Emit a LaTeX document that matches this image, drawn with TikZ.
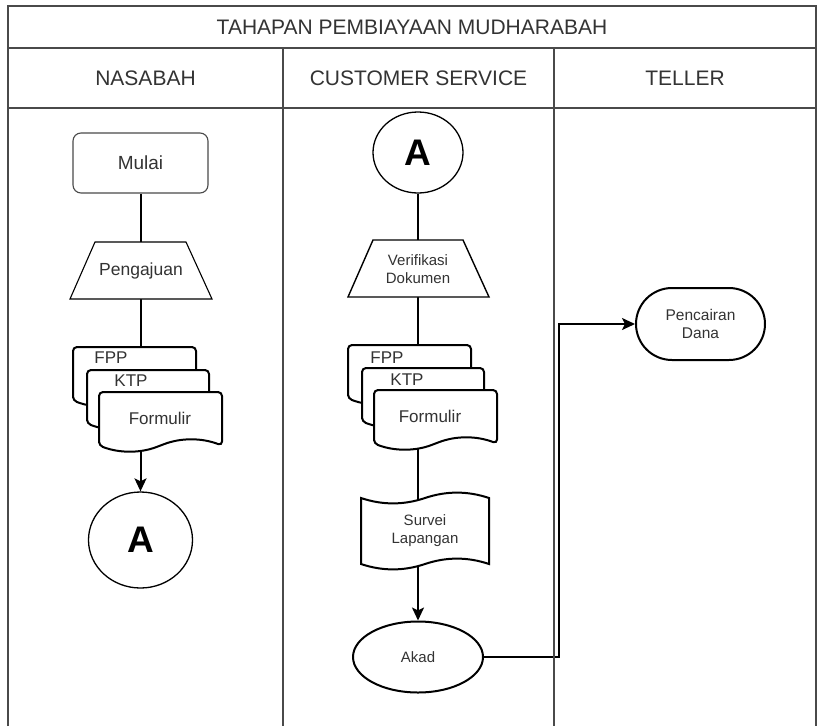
\documentclass[tikz,border=0pt]{standalone}
\usepackage{fontspec}
\setmainfont{Liberation Sans}
\usetikzlibrary{arrows.meta,shapes.geometric}
\pgfdeclarelayer{bg}
\pgfdeclarelayer{paper}
\pgfsetlayers{paper,bg,main}
\definecolor{txt}{HTML}{333333}
\definecolor{lane}{HTML}{4A4A4A}
\newcommand\docsh[5]{% x y w H dy
  \filldraw[fill=white,draw=black,line width=2pt,rounded corners=4pt]
   (#1,{#2+#4-#5/2}) -- (#1,#2) -- ({#1+#3},#2) -- ({#1+#3},{#2+#4-#5/2})
   .. controls ({#1+#3*5/6},{#2+#4-1.1*#5}) and ({#1+#3*2/3},{#2+#4-1.1*#5}) .. ({#1+#3/2},{#2+#4-#5/2})
   .. controls ({#1+#3/3},{#2+#4+0.1*#5}) and ({#1+#3/6},{#2+#4+0.1*#5}) .. (#1,{#2+#4-#5/2}) -- cycle;}
\newcommand\tapesh[5]{% x y w h dy
  \filldraw[fill=white,draw=black,line width=2pt]
   (#1,{#2+#5/2}) .. controls ({#1+#3/6},{#2+1.1*#5}) and ({#1+#3/3},{#2+1.1*#5}) .. ({#1+#3/2},{#2+#5/2})
   .. controls ({#1+2*#3/3},{#2-0.1*#5}) and ({#1+5*#3/6},{#2-0.1*#5}) .. ({#1+#3},{#2+#5/2})
   -- ({#1+#3},{#2+#4-#5/2})
   .. controls ({#1+5*#3/6},{#2+#4-1.1*#5}) and ({#1+2*#3/3},{#2+#4-1.1*#5}) .. ({#1+#3/2},{#2+#4-#5/2})
   .. controls ({#1+#3/3},{#2+#4+0.1*#5}) and ({#1+#3/6},{#2+#4+0.1*#5}) .. (#1,{#2+#4-#5/2}) -- cycle;}
\tikzset{
  lanes/.style={draw=lane,line width=1.2pt},
  hdr/.style={text=txt,inner sep=0pt,font=\fontsize{21}{24}\selectfont},
  lbl/.style={text=txt,inner sep=0pt,align=center},
  conn/.style={draw=black,line width=2pt},
  arr/.style={conn,-{Stealth[length=13pt,width=12pt,inset=3pt]}},
  conncirc/.style={ellipse,draw=black,line width=1.3pt,fill=white,inner sep=0pt,font=\bfseries\fontsize{37}{40}\selectfont}
}
\begin{document}
\begin{tikzpicture}[x=1pt,y=-1pt]
\useasboundingbox (0,0) rectangle (819,726);
\begin{pgfonlayer}{paper}
\fill[white] (0,0) rectangle (819,726);
\end{pgfonlayer}
% lanes
\draw[lanes] (8,726) -- (8,6) -- (816,6) -- (816,726);
\draw[lanes] (8,48) -- (816,48);
\draw[lanes] (8,108) -- (816,108);
\draw[lanes] (283,48) -- (283,726);
\draw[lanes] (554,48) -- (554,726);
\node[hdr] (title) at (412,27) {TAHAPAN PEMBIAYAAN MUDHARABAH};
\node[hdr] (hnas) at (145.5,78) {NASABAH};
\node[hdr] (hcs) at (418.5,78) {CUSTOMER SERVICE};
\node[hdr] (htel) at (685,78) {TELLER};

% ---------- NASABAH ----------
\node[draw=lane,line width=1.1pt,fill=white,rounded corners=8pt,minimum width=135pt,minimum height=60pt,
      lbl,font=\fontsize{19}{22}\selectfont] (mulai) at (140.5,163) {Mulai};
\filldraw[fill=white,draw=black,line width=1.1pt] (95,242) -- (186,242) -- (212,299) -- (70,299) -- cycle;
\node[lbl,font=\fontsize{17.5}{20}\selectfont] (peng) at (141,271) {Pengajuan};
\coordinate (pengTop) at (140.5,242);
\coordinate (pengBot) at (140.5,299);
\docsh{73}{347}{123}{60}{13}
\docsh{87}{370}{122}{60}{13}
\docsh{99}{392}{123}{60}{13}
\node[lbl,font=\fontsize{17}{20}\selectfont] (fppL) at (111,358) {FPP};
\node[lbl,font=\fontsize{17}{20}\selectfont] (ktpL) at (131,381) {KTP};
\node[lbl,font=\fontsize{17}{20}\selectfont] (forL) at (160,418) {Formulir};
\coordinate (stLtop) at (140.5,347);
\coordinate (stLbot) at (140.5,450);
\node[conncirc,minimum width=104pt,minimum height=96pt] (aL) at (140.5,540) {A};

% ---------- CUSTOMER SERVICE ----------
\node[conncirc,minimum width=90pt,minimum height=81pt] (aC) at (418,152.5) {A};
\filldraw[fill=white,draw=black,line width=1.4pt] (373,240) -- (463,240) -- (489,297) -- (348,297) -- cycle;
\node[lbl,font=\fontsize{15}{18}\selectfont] (verif) at (418,269) {Verifikasi\\Dokumen};
\coordinate (verTop) at (418,240);
\coordinate (verBot) at (418,297);
\docsh{348}{345}{123}{60}{13}
\docsh{362}{368}{122}{60}{13}
\docsh{374}{390}{123}{60}{13}
\node[lbl,font=\fontsize{17}{20}\selectfont] (fppC) at (387,358) {FPP};
\node[lbl,font=\fontsize{17}{20}\selectfont] (ktpC) at (407,380) {KTP};
\node[lbl,font=\fontsize{17}{20}\selectfont] (forC) at (430,416) {Formulir};
\coordinate (stCtop) at (418,345);
\coordinate (stCbot) at (418,448);
\tapesh{361}{492}{128}{78}{12}
\node[lbl,font=\fontsize{15}{18}\selectfont] (survei) at (425,531) {Survei\\Lapangan};
\coordinate (svTop) at (418,500);
\coordinate (svBot) at (418,565);
\node[ellipse,draw=black,line width=2pt,fill=white,minimum width=130pt,minimum height=71pt,
      lbl,font=\fontsize{15}{18}\selectfont] (akad) at (418,657) {Akad};

% ---------- TELLER ----------
\node[draw=black,line width=2pt,fill=white,rounded corners=36pt,minimum width=129pt,minimum height=72pt,
      lbl,font=\fontsize{15.5}{18}\selectfont] (penc) at (700.5,324) {Pencairan\\Dana};

% ---------- connectors ----------
\begin{pgfonlayer}{bg}
\draw[conn] (mulai.south) -- (pengTop);
\draw[conn] (pengBot) -- (stLtop);
\draw[arr] (stLbot) -- (aL.north);
\draw[conn] (aC.south) -- (verTop);
\draw[conn] (verBot) -- (stCtop);
\draw[conn] (stCbot) -- (svTop);
\draw[arr] (svBot) -- (akad.north);
\draw[arr] (akad.east) -- ++(75,0) |- (penc.west);
\end{pgfonlayer}
\end{tikzpicture}
\end{document}
